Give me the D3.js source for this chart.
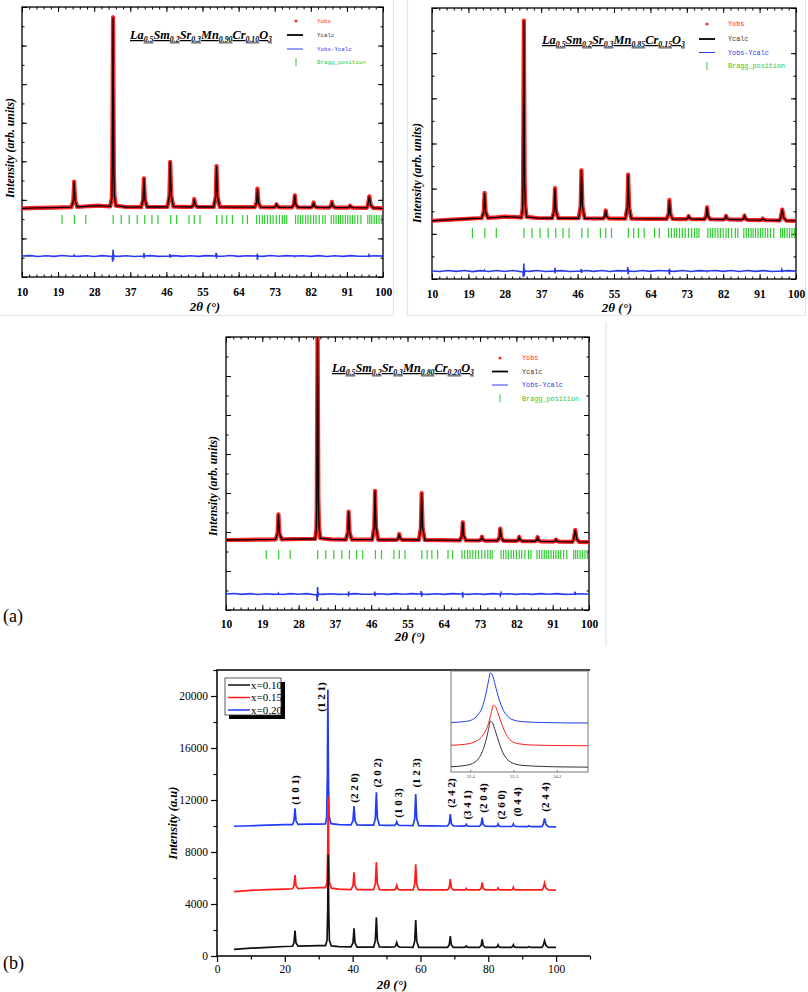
<!DOCTYPE html>
<html><head><meta charset="utf-8">
<script src="https://cdn.jsdelivr.net/npm/d3@7"></script>
<style>body{margin:0;background:#fff}svg{display:block}</style>
</head><body>
<svg id="c" width="808" height="992"></svg>
<script>
// ================= DATA =================
const rietXTicks = [10,19,28,37,46,55,64,73,82,91,100];
const rietLegend = ["Yobs","Ycalc","Yobs-Ycalc","Bragg_position"];
const formula1 = [["La",0],["0.5",1],["Sm",0],["0.2",1],["Sr",0],["0.3",1],["Mn",0],["0.90",1],["Cr",0],["0.10",1],["O",0],["3",1]];
const formula2 = [["La",0],["0.5",1],["Sm",0],["0.2",1],["Sr",0],["0.3",1],["Mn",0],["0.85",1],["Cr",0],["0.15",1],["O",0],["3",1]];
const formula3 = [["La",0],["0.5",1],["Sm",0],["0.2",1],["Sr",0],["0.3",1],["Mn",0],["0.80",1],["Cr",0],["0.20",1],["O",0],["3",1]];

// Bragg reflection positions (2θ)
const bragg = [19.99,23.07,25.9,32.73,34.73,36.73,38.73,40.6,42.39,43.89,47.05,48.55,51.63,52.96,54.38,
  58.54,59.87,61.04,62.46,65.04,66.2,68.5,69.2,69.9,70.5,71.2,71.9,72.6,73.4,74.2,74.9,75.5,76.0,
  78.2,78.8,79.4,80.0,80.7,81.3,82.0,82.7,83.3,84.1,85.0,85.6,
  87.1,87.7,88.3,88.9,89.4,90.0,90.6,91.2,91.8,92.4,93.0,93.7,94.5,
  96.2,96.7,97.2,97.8,98.4,99.0,99.6];

// Panel 1: Yobs (Ycalc coincides at reading precision)
const obs1 = [[10,3560],[14,3580],[18,3600],[22.3,3620],
 [22.8,3950],[23.0,4950],[23.25,3950],[23.8,3630],
 [27,3680],[29,3700],[31,3670],[32.0,3660],
 [32.4,4100],[32.5,5200],[32.6,8800],[32.7,13460],[32.8,9500],[32.9,5400],[33.05,4200],[33.4,3700],
 [36,3630],[39.7,3620],
 [40.2,4000],[40.4,5120],[40.65,4000],[41.2,3630],
 [44,3630],[46.25,3640],
 [46.75,4220],[46.95,5970],[47.2,4230],[47.75,3650],
 [50,3640],[52.3,3630],
 [52.75,3740],[52.95,4045],[53.2,3740],[53.75,3630],
 [56,3630],[57.8,3630],
 [58.3,4160],[58.5,5755],[58.75,4160],[59.3,3640],
 [63,3620],[68.0,3620],
 [68.5,3860],[68.7,4590],[68.95,3860],[69.5,3620],
 [72.8,3615],[73.25,3650],[73.45,3770],[73.7,3650],[74.2,3615],
 [77.3,3610],
 [77.8,3765],[78.0,4230],[78.25,3765],[78.8,3610],
 [82.0,3605],[82.5,3670],[82.7,3865],[82.95,3670],[83.5,3605],
 [86.55,3600],[87.05,3675],[87.25,3895],[87.5,3675],[88.05,3600],
 [91.1,3595],[91.6,3620],[91.8,3695],[92.05,3620],[92.6,3595],
 [95.9,3580],
 [96.2,3700],[96.6,4180],[96.95,3720],[97.6,3580],
 [100,3560]];
const calc1 = obs1;
const diff1 = [[10,0],[12,20],[14,-25],[16,15],[18,-20],[20,25],[22,-15],[22.9,0],[23,40],[23.1,0],[24,-20],[26,15],[28,-25],[30,20],
 [32.5,-30],[32.6,-300],[32.7,320],[32.8,-200],[32.9,60],[33,0],[34,-20],[36,15],[38,-25],[40.2,0],[40.3,-60],[40.4,150],[40.5,-40],[40.6,0],
 [42,20],[44,-20],[46.8,0],[46.9,100],[47.0,-90],[47.1,0],[48,20],[50,-20],[52,15],[54,-20],[56,20],[58.3,0],[58.4,160],[58.5,-130],[58.6,40],[58.7,0],
 [60,-15],[62,25],[64,-20],[66,15],[68.5,0],[68.6,40],[68.7,-200],[68.8,30],[68.9,0],[70,-20],[72,25],[74,-15],[76,20],[77.9,0],[78,-30],[78.1,0],[80,15],
 [82,-20],[84,20],[86,-25],[88,15],[90,-20],[92,20],[94,-15],[96.4,0],[96.5,60],[96.7,-20],[96.9,0],[98,15],[100,-10]];

// Panel 2
const obs2 = [[10,2580],[15,2630],[20,2680],[22.3,2700],
 [22.8,2980],[23.0,3810],[23.25,2980],[23.8,2710],
 [26,2730],[28,2760],[31,2740],[32.1,2720],
 [32.4,3100],[32.5,4000],[32.6,7200],[32.72,11440],[32.8,8300],[32.9,4400],[33.05,3300],[33.4,2750],
 [36,2700],[39.7,2690],
 [40.2,3020],[40.4,4020],[40.65,3020],[41.2,2690],
 [44,2690],[46.25,2690],
 [46.75,3220],[46.95,4815],[47.2,3220],[47.75,2690],
 [50,2680],[52.3,2680],
 [52.75,2770],[52.95,3035],[53.2,2770],[53.75,2680],
 [56,2675],[57.8,2675],
 [58.3,3160],[58.5,4625],[58.75,3160],[59.3,2675],
 [63,2665],[68.0,2660],
 [68.5,2870],[68.7,3500],[68.95,2870],[69.5,2660],
 [72.8,2655],[73.25,2690],[73.45,2785],[73.7,2690],[74.2,2655],
 [77.3,2645],
 [77.8,2780],[78.0,3175],[78.25,2780],[78.8,2645],
 [82.0,2635],[82.5,2675],[82.7,2790],[82.95,2675],[83.5,2635],
 [86.55,2625],[87.05,2670],[87.25,2805],[87.5,2670],[88.05,2620],
 [91.1,2610],[91.6,2625],[91.8,2675],[92.05,2625],[92.6,2605],
 [95.9,2590],
 [96.2,2690],[96.6,3075],[96.95,2710],[97.6,2585],
 [100,2570]];
const calc2 = obs2;
const diff2 = [[10,0],[12,-20],[14,25],[16,-15],[18,20],[20,-25],[22,15],[22.9,0],[23,35],[23.1,0],[24,-20],[26,20],[28,-20],[30,25],
 [32.5,-40],[32.6,-280],[32.7,330],[32.8,-220],[32.9,50],[33,0],[34,-15],[36,20],[38,-20],[40.2,0],[40.3,-50],[40.4,140],[40.5,-30],[40.6,0],
 [42,15],[44,-25],[46.8,0],[46.9,90],[47.0,-80],[47.1,0],[48,20],[50,-15],[52,20],[54,-20],[56,15],[58.3,0],[58.4,170],[58.5,-150],[58.6,30],[58.7,0],
 [60,-20],[62,20],[64,-15],[66,20],[68.5,0],[68.6,30],[68.7,-160],[68.8,25],[68.9,0],[70,-15],[72,20],[74,-20],[76,15],[77.9,0],[78,-25],[78.1,0],[80,20],
 [82,-15],[84,25],[86,-20],[88,20],[90,-15],[92,15],[94,-20],[96.4,0],[96.5,70],[96.7,-20],[96.9,0],[98,15],[100,-5]];

// Panel 3
const obs3 = [[10,3590],[15,3600],[20,3610],[22.3,3620],
 [22.8,3940],[23.0,4900],[23.25,3940],[23.8,3620],
 [26,3630],[29,3640],[32.1,3640],
 [32.4,4100],[32.5,5400],[32.6,10000],[32.7,14640],[32.8,10500],[32.9,5800],[33.05,4300],[33.4,3680],
 [36,3620],[39.7,3610],
 [40.2,3970],[40.4,5045],[40.65,3970],[41.2,3610],
 [44,3605],[46.25,3605],
 [46.75,4230],[46.95,6115],[47.2,4230],[47.75,3600],
 [50,3600],[52.3,3600],
 [52.75,3670],[52.95,3890],[53.2,3670],[53.75,3595],
 [56,3595],[57.8,3590],
 [58.3,4190],[58.5,6000],[58.75,4190],[59.3,3590],
 [63,3580],[68.0,3575],
 [68.5,3805],[68.7,4495],[68.95,3805],[69.5,3570],
 [72.8,3565],[73.25,3610],[73.45,3755],[73.7,3610],[74.2,3560],
 [77.3,3555],
 [77.8,3710],[78.0,4170],[78.25,3710],[78.8,3550],
 [82.0,3540],[82.5,3590],[82.7,3745],[82.95,3590],[83.5,3535],
 [86.55,3525],[87.05,3575],[87.25,3730],[87.5,3575],[88.05,3520],
 [91.1,3510],[91.6,3535],[91.8,3610],[92.05,3535],[92.6,3505],
 [95.9,3495],
 [96.2,3615],[96.6,4105],[96.95,3630],[97.6,3490],
 [100,3480]];
const calc3 = obs3;
const diff3 = [[10,0],[12,25],[14,-20],[16,20],[18,-25],[20,15],[22,-20],[22.9,0],[23,40],[23.1,0],[24,-25],[26,20],[28,-15],[30,20],
 [32.5,-50],[32.6,-360],[32.7,360],[32.8,-150],[32.9,40],[33,0],[34,-20],[36,15],[38,-20],[40.2,0],[40.3,-40],[40.4,130],[40.5,-30],[40.6,0],
 [42,20],[44,-15],[46.8,0],[46.9,120],[47.0,-110],[47.1,0],[48,15],[50,-20],[52,20],[54,-15],[56,20],[58.3,0],[58.4,150],[58.5,-140],[58.6,30],[58.7,0],
 [60,-20],[62,15],[64,-20],[66,20],[68.5,0],[68.6,30],[68.7,-190],[68.8,25],[68.9,0],[70,-20],[72,15],[74,-20],[76,20],[77.9,0],[78,-80],[78.2,60],[78.3,0],[80,15],
 [82,-20],[84,15],[86,-20],[88,20],[90,-15],[92,20],[94,-20],[96.4,0],[96.5,110],[96.7,-20],[96.9,0],[98,15],[100,-10]];

// Panel (b)
const bSeriesNames = ["x=0.10","x=0.15","x=0.20"];
const bXTicks = [0,20,40,60,80,100];
const bYTicks = [0,4000,8000,12000,16000,20000];
const bBlack = [[5,510],[10,600],[15,670],[20,730],[22.3,750],
 [22.7,1010],[23.0,1950],[23.3,1010],[23.9,760],
 [27,780],[30,800],[32.0,800],
 [32.45,1200],[32.65,3500],[32.8,7800],[32.95,3500],[33.15,1200],[33.7,780],
 [36,720],[39.5,700],
 [40.1,1000],[40.4,2130],[40.7,1000],[41.3,690],
 [44,690],[46.2,690],
 [46.7,1180],[47.0,2970],[47.3,1180],[47.9,690],
 [50,680],[52.3,690],
 [52.7,780],[53.0,1030],[53.3,780],[53.9,680],
 [56,675],[57.8,670],
 [58.3,1120],[58.6,2770],[58.9,1120],[59.5,670],
 [63,670],[68.0,670],
 [68.5,860],[68.8,1540],[69.1,860],[69.7,670],
 [72.9,670],[73.3,700],[73.5,770],[73.7,700],[74.1,670],
 [77.4,670],
 [77.9,800],[78.2,1280],[78.5,800],[79.1,670],
 [82.3,670],[82.7,720],[82.9,850],[83.1,720],[83.5,670],
 [86.8,670],[87.2,720],[87.4,850],[87.6,720],[88.1,670],
 [91.5,670],[91.8,690],[92.0,720],[92.2,690],[92.6,670],
 [95.8,670],
 [96.2,800],[96.6,1180],[97.0,810],[97.7,665],
 [100,660]];
const bRed = [[5,4950],[10,5050],[15,5100],[20,5150],[22.3,5170],
 [22.7,5400],[23.0,6230],[23.3,5400],[23.9,5190],
 [27,5230],[30,5260],[32.0,5260],
 [32.45,5650],[32.65,8000],[32.8,12260],[32.95,8000],[33.15,5700],[33.7,5220],
 [36,5150],[39.5,5110],
 [40.1,5400],[40.4,6440],[40.7,5400],[41.3,5110],
 [44,5100],[46.2,5100],
 [46.7,5560],[47.0,7230],[47.3,5560],[47.9,5100],
 [50,5090],[52.3,5090],
 [52.7,5170],[53.0,5440],[53.3,5170],[53.9,5085],
 [56,5085],[57.8,5080],
 [58.3,5500],[58.6,7050],[58.9,5500],[59.5,5080],
 [63,5080],[68.0,5080],
 [68.5,5260],[68.8,5920],[69.1,5260],[69.7,5080],
 [72.9,5080],[73.3,5110],[73.5,5200],[73.7,5110],[74.1,5080],
 [77.4,5080],
 [77.9,5210],[78.2,5670],[78.5,5210],[79.1,5080],
 [82.3,5080],[82.7,5120],[82.9,5230],[83.1,5120],[83.5,5080],
 [86.8,5080],[87.2,5130],[87.4,5280],[87.6,5130],[88.1,5080],
 [95.8,5080],
 [96.2,5220],[96.6,5620],[97.0,5230],[97.7,5080],
 [100,5070]];
const bBlue = [[5,9980],[10,10020],[15,10060],[20,10100],[22.3,10110],
 [22.7,10400],[23.0,11360],[23.3,10400],[23.9,10120],
 [27,10140],[30,10150],[32.0,10160],
 [32.35,10700],[32.55,14000],[32.7,20500],[32.85,14000],[33.05,10800],[33.6,10180],
 [36,10100],[39.5,10080],
 [40.1,10400],[40.4,11540],[40.7,10400],[41.3,10080],
 [44,10060],[46.2,10060],
 [46.7,10600],[47.0,12590],[47.3,10600],[47.9,10060],
 [50,10050],[52.3,10050],
 [52.7,10120],[53.0,10330],[53.3,10120],[53.9,10040],
 [56,10040],[57.8,10030],
 [58.3,10550],[58.6,12460],[58.9,10550],[59.5,10030],
 [63,10010],[68.0,10000],
 [68.5,10200],[68.8,10920],[69.1,10200],[69.7,10000],
 [72.9,9990],[73.3,10030],[73.5,10130],[73.7,10030],[74.1,9990],
 [77.4,9980],
 [77.9,10130],[78.2,10640],[78.5,10130],[79.1,9980],
 [82.3,9970],[82.7,10020],[82.9,10150],[83.1,10020],[83.5,9970],
 [86.8,9960],[87.2,10020],[87.4,10150],[87.6,10020],[88.1,9960],
 [91.5,9950],[91.8,9980],[92.0,10020],[92.2,9980],[92.6,9950],
 [95.8,9950],
 [96.2,10120],[96.6,10590],[97.0,10130],[97.7,9950],
 [100,9940]];
const hklLabels = ["(1 0 1)","(1 2 1)","(2 2 0)","(2 0 2)","(1 0 3)","(1 2 3)","(2 4 2)","(3 4 1)","(2 0 4)","(2 6 0)","(0 4 4)","(2 4 4)"];
const hklTheta = [23.0,30.8,40.4,47.2,53.4,58.7,69.0,73.7,78.5,83.8,88.5,96.8];
const hklLevel = [12770,19920,12920,14080,11770,14080,12540,11620,12150,11620,11850,12230];

// inset (zoom of the (1 2 1) peak)
const insetXTicks = [32.4,33.3,34.2];
const insBlack = [[32.0,5.2],[32.3,6.5],[32.45,8.5],[32.55,12],[32.65,20],[32.72,30],[32.78,42],[32.82,50.5],[32.86,49],[32.92,41],[33.0,29],[33.08,19],[33.18,12],[33.3,8.5],[33.5,6.5],[33.9,5.5],[34.4,5],[34.85,4.8]];
const insRed = [[32.0,26.5],[32.3,27.5],[32.5,30],[32.6,33],[32.7,39],[32.78,48],[32.84,59],[32.88,66],[32.92,65],[32.98,58],[33.06,47],[33.15,37],[33.25,31],[33.4,28],[33.7,26.7],[34.2,26.2],[34.85,26]];
const insBlue = [[32.0,49],[32.3,50],[32.45,52],[32.55,56],[32.65,64],[32.72,76],[32.78,90],[32.82,98],[32.86,96],[32.92,86],[33.0,72],[33.08,62],[33.18,55],[33.3,51.5],[33.5,49.8],[33.9,49],[34.4,48.6],[34.85,48.5]];

// ================= DRAWING =================
const svg = d3.select('#c');
const SERIF = '"Liberation Serif","Times New Roman",serif';
const MONO = '"Liberation Mono","DejaVu Sans Mono",monospace';
const RED = '#ff2424', GREEN = '#2ecc2e', BLUE = '#2a3cf0';
const defs = svg.append('defs');

// faint panel frames
const frameC = '#dde5ee';
function fl(x1,y1,x2,y2){svg.append('line').attr('x1',x1).attr('y1',y1).attr('x2',x2).attr('y2',y2).attr('stroke',frameC).attr('stroke-width',1.2);}
fl(393.5,0,393.5,316); fl(0,315.5,393.5,315.5);
fl(407.5,0,407.5,316); fl(805.5,0,805.5,316); fl(407.5,315.5,805.5,315.5);
fl(606,322,606,646);

function axisStyle(sel){ sel.select('.domain').remove(); sel.selectAll('.tick line').attr('stroke','#000'); }

function drawRiet(c){
  const g = svg.append('g');
  const x = d3.scaleLinear().domain([10,100]).range([c.l,c.r]);
  const y = d3.scaleLinear().domain(c.yDom).range([c.b,c.t]);
  const cid = 'clip'+c.id;
  defs.append('clipPath').attr('id',cid).append('rect').attr('x',c.l).attr('y',c.t).attr('width',c.r-c.l).attr('height',c.b-c.t);
  const xMinor = d3.range(10,100.01,1.8);
  const yMajor = d3.range(c.yDom[0],c.yDom[1]+1,2000);
  const yMinor = d3.range(c.yDom[0],c.yDom[1]+1,1000);
  const sides = [
    [d3.axisBottom(x), `translate(0,${c.b})`, xMinor, rietXTicks],
    [d3.axisTop(x), `translate(0,${c.t})`, xMinor, rietXTicks],
    [d3.axisLeft(y), `translate(${c.l},0)`, yMinor, yMajor],
    [d3.axisRight(y), `translate(${c.r},0)`, yMinor, yMajor]];
  sides.forEach(([ax,tr,mn,mj])=>{
    g.append('g').attr('transform',tr).call(ax.tickValues(mn).tickSize(-2.5).tickFormat('')).call(axisStyle);
    g.append('g').attr('transform',tr).call(ax.tickValues(mj).tickSize(-5).tickFormat('')).call(axisStyle);
  });
  g.append('g').attr('transform',`translate(0,${c.b})`)
   .call(d3.axisBottom(x).tickValues(rietXTicks).tickSize(0).tickPadding(c.lblPad).tickFormat(d3.format('d')))
   .call(s=>{s.select('.domain').remove(); s.selectAll('text').attr('font-family',SERIF).attr('font-weight','bold').attr('font-size',11.5).attr('fill','#000');});
  g.append('rect').attr('x',c.l).attr('y',c.t).attr('width',c.r-c.l).attr('height',c.b-c.t).attr('fill','none').attr('stroke','#000').attr('stroke-width',1.3);
  const pg = g.append('g').attr('clip-path',`url(#${cid})`);
  const line = d3.line().x(d=>x(d[0])).y(d=>y(d[1]));
  pg.append('path').datum(c.obs).attr('d',line).attr('fill','none').attr('stroke',RED).attr('stroke-width',4.2).attr('stroke-linejoin','round');
  pg.selectAll('circle.obs').data(c.obs).join('circle').attr('cx',d=>x(d[0])).attr('cy',d=>y(d[1])).attr('r',1.8).attr('fill',RED);
  pg.append('path').datum(c.calc).attr('d',line).attr('fill','none').attr('stroke','#000').attr('stroke-width',1.3);
  pg.selectAll('line.bragg').data(bragg).join('line').attr('x1',d=>x(d)).attr('x2',d=>x(d)).attr('y1',c.gy0).attr('y2',c.gy1).attr('stroke',GREEN).attr('stroke-width',1.2);
  pg.append('path').datum(c.diff).attr('d',d3.line().x(d=>x(d[0])).y(d=>y(c.dOff+d[1]))).attr('fill','none').attr('stroke',BLUE).attr('stroke-width',1.6);
  const ft = g.append('text').attr('x',c.fx).attr('y',c.fy).attr('font-family',SERIF).attr('font-weight','bold').attr('font-style','italic')
    .attr('font-size',12.5).attr('text-decoration','underline').attr('fill','#000');
  c.formula.forEach(([t,sub])=>{
    const ts = ft.append('tspan').text(t);
    if(sub) ts.attr('font-size',8).attr('dy',2.5); else ts.attr('dy', ft.selectAll('tspan').size()>1 ? -2.5 : 0);
  });
  ft.attr('textLength',c.fw).attr('lengthAdjust','spacingAndGlyphs');
  const L = c.leg;
  g.append('circle').attr('cx',L.mx).attr('cy',L.rows[0]).attr('r',1.5).attr('fill',RED);
  g.append('line').attr('x1',L.lx0).attr('x2',L.lx1).attr('y1',L.rows[1]).attr('y2',L.rows[1]).attr('stroke','#000').attr('stroke-width',1.8);
  g.append('line').attr('x1',L.lx0).attr('x2',L.lx1).attr('y1',L.rows[2]).attr('y2',L.rows[2]).attr('stroke',BLUE).attr('stroke-width',1);
  g.append('line').attr('x1',L.mx).attr('x2',L.mx).attr('y1',L.rows[3]-4).attr('y2',L.rows[3]+4).attr('stroke',GREEN).attr('stroke-width',1);
  const lc = [RED,'#333',BLUE,GREEN];
  rietLegend.forEach((t,i)=>g.append('text').attr('x',L.tx).attr('y',L.rows[i]).attr('dy','0.35em').attr('font-family',MONO).attr('font-size',L.fs).attr('fill',lc[i]).text(t));
  g.append('text').attr('transform',`translate(${c.ytx},${c.yty}) rotate(-90)`).attr('text-anchor','middle').attr('dy','0.35em')
    .attr('font-family',SERIF).attr('font-weight','bold').attr('font-style','italic').attr('font-size',11.8).text('Intensity (arb. units)');
  g.append('text').attr('x',c.xtx).attr('y',c.xty).attr('text-anchor','middle').attr('dy','0.35em')
    .attr('font-family',SERIF).attr('font-weight','bold').attr('font-style','italic').attr('font-size',13).text('2θ (°)');
}

drawRiet({id:1,l:22,r:383,t:7,b:277,yDom:[0,14000],obs:obs1,calc:calc1,diff:diff1,dOff:1090,gy0:215,gy1:224,lblPad:11,
  formula:formula1,fx:130,fy:39,fw:142,leg:{mx:296,lx0:287,lx1:303,tx:317,rows:[21,35,49,62],fs:5.8},
  ytx:10,yty:148,xtx:205,xty:306});
drawRiet({id:2,l:432,r:796,t:8,b:279,yDom:[0,12000],obs:obs2,calc:calc2,diff:diff2,dOff:354,gy0:228,gy1:238,lblPad:11,
  formula:formula2,fx:542,fy:44,fw:143,leg:{mx:707,lx0:699,lx1:715,tx:728,rows:[24,39,52.5,66],fs:6.8},
  ytx:417,yty:173,xtx:617,xty:307});
drawRiet({id:3,l:226,r:589,t:337,b:610,yDom:[0,14000],obs:obs3,calc:calc3,diff:diff3,dOff:820,gy0:550,gy1:559,lblPad:10,
  formula:formula3,fx:332,fy:372,fw:142,leg:{mx:500,lx0:492,lx1:508,tx:522,rows:[358,371.5,385,398.5],fs:6.8},
  ytx:213,yty:486,xtx:410,xty:636});

svg.append('text').attr('x',3).attr('y',622).attr('font-family',SERIF).attr('font-size',18).text('(a)');
svg.append('text').attr('x',3).attr('y',969).attr('font-family',SERIF).attr('font-size',18).text('(b)');

// ---------- panel (b) ----------
(function(){
  const L=217,R=590,T=670,B=956;
  const x = d3.scaleLinear().domain([0,110]).range([L,R]);
  const y = d3.scaleLinear().domain([0,22000]).range([B,T]);
  const g = svg.append('g');
  const line = d3.line().x(d=>x(d[0])).y(d=>y(d[1]));
  const cols = ['#111','#ff1a1a','#1f3df5'];
  g.append('path').datum(bBlue).attr('d',line).attr('fill','none').attr('stroke',cols[2]).attr('stroke-width',1.7);
  g.append('path').datum(bRed).attr('d',line).attr('fill','none').attr('stroke',cols[1]).attr('stroke-width',1.7);
  g.append('path').datum(bBlack).attr('d',line).attr('fill','none').attr('stroke',cols[0]).attr('stroke-width',1.7);
  const st = s=>{s.select('.domain').remove(); s.selectAll('line').attr('stroke','#000').attr('stroke-width',1.2); s.selectAll('text').attr('font-family',SERIF).attr('font-size',11.5).attr('fill','#000');};
  g.append('g').attr('transform',`translate(0,${B})`).call(d3.axisBottom(x).tickValues(d3.range(10,111,20)).tickSize(3.5).tickFormat('')).call(st);
  g.append('g').attr('transform',`translate(0,${B})`).call(d3.axisBottom(x).tickValues(bXTicks).tickSize(6).tickPadding(3).tickFormat(d3.format('d'))).call(st);
  g.append('g').attr('transform',`translate(${L},0)`).call(d3.axisLeft(y).tickValues(d3.range(2000,22001,4000)).tickSize(3.5).tickFormat('')).call(st);
  g.append('g').attr('transform',`translate(${L},0)`).call(d3.axisLeft(y).tickValues(bYTicks).tickSize(6).tickPadding(3).tickFormat(d3.format('d'))).call(st);
  g.append('path').attr('d',`M${R},${T}H${L}V${B}H${R}`).attr('fill','none').attr('stroke','#000').attr('stroke-width',1.5);
  hklLabels.forEach((t,i)=>g.append('text').attr('transform',`translate(${x(hklTheta[i])},${y(hklLevel[i])}) rotate(-90)`)
    .attr('text-anchor','middle').attr('dy','0.35em').attr('font-family',SERIF).attr('font-weight','bold').attr('font-size',11).text(t));
  g.append('text').attr('transform',`translate(173,823) rotate(-90)`).attr('text-anchor','middle').attr('dy','0.35em')
    .attr('font-family',SERIF).attr('font-weight','bold').attr('font-style','italic').attr('font-size',12.5).text('Intensity (a.u)');
  g.append('text').attr('x',392).attr('y',984).attr('text-anchor','middle').attr('dy','0.35em')
    .attr('font-family',SERIF).attr('font-weight','bold').attr('font-style','italic').attr('font-size',13).text('2θ (°)');
  g.append('rect').attr('x',229).attr('y',682).attr('width',56).attr('height',37).attr('fill','#000');
  g.append('rect').attr('x',225).attr('y',678).attr('width',56).attr('height',37).attr('fill','#fff').attr('stroke','#333').attr('stroke-width',0.8);
  [685,697.5,710].forEach((yy,i)=>{
    g.append('line').attr('x1',228).attr('x2',250).attr('y1',yy).attr('y2',yy).attr('stroke',cols[i]).attr('stroke-width',1.5);
    g.append('text').attr('x',251).attr('y',yy).attr('dy','0.35em').attr('font-family',SERIF).attr('font-size',11).text(bSeriesNames[i]);
  });
  const iL=451,iR=588,iT=671,iB=772;
  const ix = d3.scaleLinear().domain([32.0,34.85]).range([iL,iR]);
  const iy = d3.scaleLinear().domain([0,100]).range([iB,iT]);
  const ig = svg.append('g');
  ig.append('rect').attr('x',iL).attr('y',iT).attr('width',iR-iL).attr('height',iB-iT).attr('fill','#fff').attr('stroke','#777').attr('stroke-width',1);
  const il = d3.line().x(d=>ix(d[0])).y(d=>iy(d[1])).curve(d3.curveMonotoneX);
  [[insBlue,cols[2]],[insRed,cols[1]],[insBlack,'#333']].forEach(([d,cl])=>
    ig.append('path').datum(d).attr('d',il).attr('fill','none').attr('stroke',cl).attr('stroke-width',1));
  ig.append('g').attr('transform',`translate(0,${iB})`).call(d3.axisBottom(ix).tickValues(insetXTicks).tickSize(-2).tickPadding(3).tickFormat(d3.format('.1f')))
    .call(s=>{s.select('.domain').remove(); s.selectAll('line').attr('stroke','#777'); s.selectAll('text').attr('font-family',SERIF).attr('font-size',4.5).attr('fill','#444');});
})();
</script>
</body></html>
